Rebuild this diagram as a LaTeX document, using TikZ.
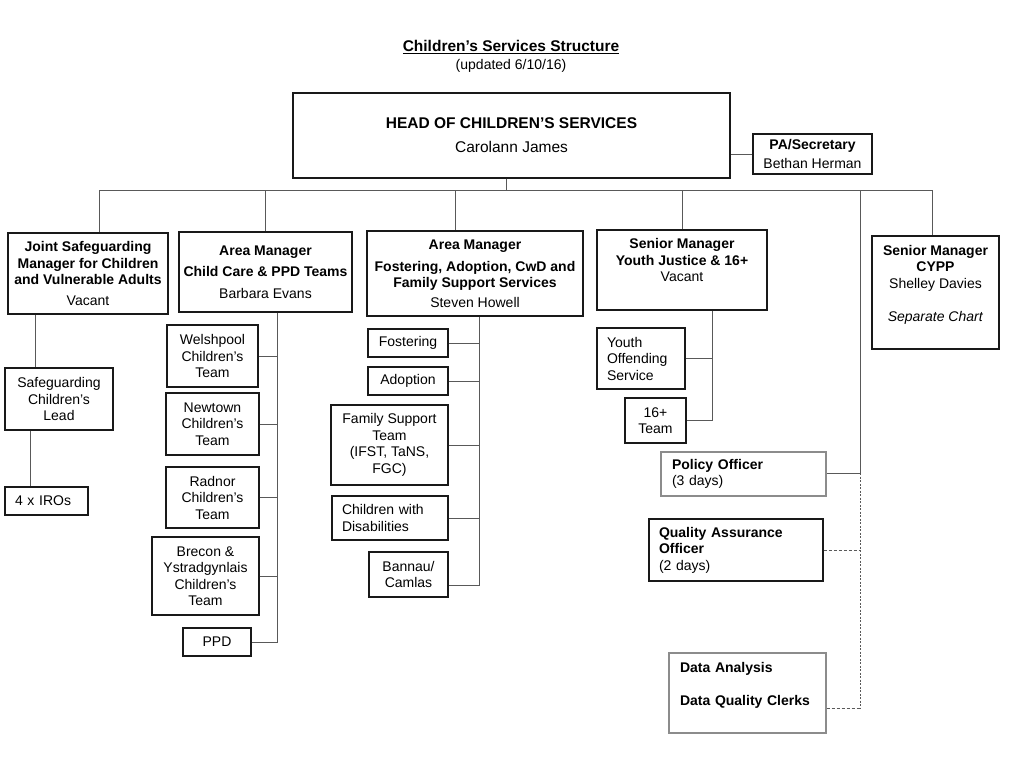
\documentclass[tikz,border=0pt]{standalone}
\usepackage{fontspec}
\setmainfont{Liberation Sans}
\usetikzlibrary{positioning}
\usetikzlibrary{calc}

\begin{document}
\begin{tikzpicture}[x=1pt,y=-1pt,semithick]
		\tikzstyle{unit}=[draw=black!90,line width=1.1pt,inner sep=0pt,align=center,
			font=\fontsize{14}{16.5}\selectfont]
		\tikzstyle{leftunit}=[unit,align=left,inner xsep=10pt]
		\tikzstyle{softunit}=[leftunit,draw=black!45,inner xsep=11pt]
		\tikzstyle{link}=[draw=black!65,line width=0.7pt]
		\tikzstyle{dotlink}=[link,dash pattern=on 2pt off 1.5pt]
		\tikzstyle{dashlink}=[link,dash pattern=on 3pt off 2pt]
		
		\useasboundingbox (0,0) rectangle (1024,768);
		
		\node[font=\fontsize{15.5}{17}\selectfont\bfseries] (Title) at (511,47) {\underline{Children’s Services Structure}};
		\node[font=\fontsize{14}{16}\selectfont]            (Updated) at (511,66) {(updated 6/10/16)};
		
		\node[unit,minimum width=437,minimum height=85,font=\fontsize{15.5}{17}\selectfont]
			(Head) at (511.5,135.5) {\textbf{HEAD OF CHILDREN’S SERVICES}\\[7pt]Carolann James};
		\node[unit,minimum width=119,minimum height=40] (PA) at (812.5,154) {\textbf{PA/Secretary}\\[3pt]Bethan Herman};
		
		\node[unit,minimum width=160,minimum height=81] (Joint) at (88,273.5)
			{\textbf{Joint Safeguarding}\\\textbf{Manager for Children}\\\textbf{and Vulnerable Adults}\\[4pt]Vacant};
		\node[unit,minimum width=173,minimum height=80] (AreaCare) at (265.5,272)
			{\textbf{Area Manager}\\[5pt]\textbf{Child Care \& PPD Teams}\\[5pt]Barbara Evans};
		\node[unit,minimum width=216,minimum height=85] (AreaFamily) at (475,273.5)
			{\textbf{Area Manager}\\[5pt]\textbf{Fostering, Adoption, CwD and}\\\textbf{Family Support Services}\\[3pt]Steven Howell};
		\node[unit,minimum width=170,minimum height=80] (Youth) at (682,270)
			{\textbf{Senior Manager}\\\textbf{Youth Justice \& 16+}\\Vacant\\[3pt]\mbox{}};
		\node[unit,minimum width=127,minimum height=113] (CYPP) at (935.5,292.5)
			{\textbf{Senior Manager}\\\textbf{CYPP}\\Shelley Davies\\[17pt]\textit{Separate Chart}\\[2pt]\mbox{}};
		
		\node[unit,minimum width=108,minimum height=62] (SafeLead) at (59,399) {Safeguarding\\Children’s\\Lead};
		\node[leftunit,text width=63,minimum height=28] (IROs) at (46.5,501) {4 x IROs};
		
		\node[unit,minimum width=91,minimum height=62]  (Welshpool) at (212.5,356)   {Welshpool\\Children’s\\Team};
		\node[unit,minimum width=93,minimum height=62]  (Newtown)   at (212.5,424)   {Newtown\\Children’s\\Team};
		\node[unit,minimum width=93,minimum height=61]  (Radnor)    at (212.5,497.5) {Radnor\\Children’s\\Team};
		\node[unit,minimum width=107,minimum height=78] (Brecon)    at (205.5,576)   {Brecon \&\\Ystradgynlais\\Children’s\\Team};
		\node[unit,minimum width=68,minimum height=28]  (PPD)       at (217,642)     {PPD};
		
		\node[unit,minimum width=80,minimum height=28]  (Fostering)     at (408,343)   {Fostering};
		\node[unit,minimum width=80,minimum height=28]  (Adoption)      at (408,381)   {Adoption};
		\node[unit,minimum width=117,minimum height=80] (FamilySupport) at (389.5,445) {Family Support\\Team\\(IFST, TaNS,\\FGC)};
		\node[leftunit,text width=96,minimum height=44] (Disabilities)  at (390,518)   {Children with\\Disabilities};
		\node[unit,minimum width=79,minimum height=45]  (Bannau)        at (408.5,574.5) {Bannau/\\Camlas};
		
		\node[leftunit,text width=68,minimum height=61] (Offending)   at (641,358.5)   {Youth\\Offending\\Service};
		\node[unit,minimum width=61,minimum height=45]  (SixteenPlus) at (655.5,420.5) {16+\\Team};
		
		\node[softunit,text width=143,minimum height=44] (Policy)  at (743.5,474) {\textbf{Policy Officer}\\(3 days)};
		\node[leftunit,text width=154,minimum height=62] (Quality) at (736,550)   {\textbf{Quality Assurance}\\\textbf{Officer}\\(2 days)};
		\node[softunit,text width=135,minimum height=80] (Data)    at (747.5,693) {\textbf{Data Analysis}\\[17pt]\textbf{Data Quality Clerks}\\[2pt]\mbox{}};
		
		\coordinate (HeadDrop)  at (506,190);
		\coordinate (BusL)      at (99,190);
		\coordinate (BusR)      at (932,190);
		\coordinate (StaffTop)  at (860,190);
		\coordinate (FamilyTop) at (455,190);
		\coordinate (LeftA)     at (35,0);
		\coordinate (LeftB)     at (30,0);
		\coordinate (CareEnd)   at (277,642);
		\coordinate (FamilyEnd) at (479,585);
		\coordinate (YouthEnd)  at (712,420);
		\coordinate (StaffMid)  at (860,473);
		\coordinate (StaffEnd)  at (860,708);
		
		\path[link] (PA.west) -- (PA.west -| Head.east)
			(HeadDrop |- Head.south) -- (HeadDrop)
			(BusL) -- (BusR)
			(BusL) -- (BusL |- Joint.north)
			(AreaCare.north) -- (AreaCare.north |- BusL)
			(FamilyTop) -- (FamilyTop |- AreaFamily.north)
			(Youth.north) -- (Youth.north |- BusL)
			(BusR) -- (BusR |- CYPP.north)
			(StaffTop) -- (StaffMid) -- (Policy.east |- StaffMid);
		
		\path[link] (Joint.south -| LeftA) -- (SafeLead.north -| LeftA)
			(SafeLead.south -| LeftB) -- (IROs.north -| LeftB);
		
		\path[link] (AreaCare.south -| CareEnd) -- (CareEnd) -- (PPD.east |- CareEnd)
			(Welshpool.east) -- (Welshpool.east -| CareEnd)
			(Newtown.east) -- (Newtown.east -| CareEnd)
			(Radnor.east) -- (Radnor.east -| CareEnd)
			(Brecon.east) -- (Brecon.east -| CareEnd);
		
		\path[link] (AreaFamily.south -| FamilyEnd) -- (FamilyEnd) -- (Bannau.east |- FamilyEnd)
			(Fostering.east) -- (Fostering.east -| FamilyEnd)
			(Adoption.east) -- (Adoption.east -| FamilyEnd)
			(FamilySupport.east) -- (FamilySupport.east -| FamilyEnd)
			(Disabilities.east) -- (Disabilities.east -| FamilyEnd);
		
		\path[link] (Youth.south -| YouthEnd) -- (YouthEnd) -- (SixteenPlus.east |- YouthEnd)
			(Offending.east) -- (Offending.east -| YouthEnd);
		
		\path[dotlink] (StaffMid) -- (StaffEnd);
		\path[dashlink] (Quality.east) -- (Quality.east -| StaffMid)
			(Data.east |- StaffEnd) -- (StaffEnd);
\end{tikzpicture}
\end{document}
